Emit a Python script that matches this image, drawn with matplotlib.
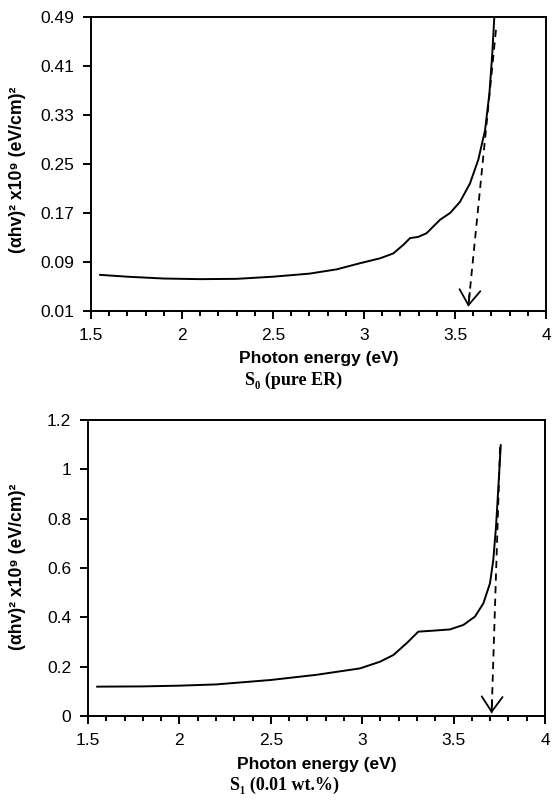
import matplotlib
matplotlib.use('Agg')
import matplotlib.pyplot as plt
from matplotlib.ticker import MultipleLocator, FuncFormatter

plt.rcParams['font.family'] = ['Liberation Sans', 'DejaVu Sans']

# S0 (pure ER)
e0 = [1.55, 1.7, 1.9, 2.1, 2.3, 2.5, 2.7, 2.85, 2.978, 3.088, 3.161, 3.216,
      3.253, 3.298, 3.344, 3.418, 3.473, 3.527, 3.582, 3.628, 3.665, 3.689,
      3.705, 3.716]
a0 = [0.069, 0.066, 0.063, 0.062, 0.0625, 0.066, 0.071, 0.078, 0.088, 0.096,
      0.104, 0.118, 0.129, 0.131, 0.137, 0.159, 0.170, 0.188, 0.218, 0.257,
      0.305, 0.365, 0.431, 0.49]
fit0 = ([3.725, 3.573], [0.469, 0.017])

# S1 (0.01 wt.%)
e1 = [1.55, 1.8, 2.0, 2.2, 2.5, 2.75, 2.988, 3.097, 3.170, 3.243, 3.307,
      3.389, 3.480, 3.553, 3.617, 3.663, 3.699, 3.717, 3.732, 3.745, 3.758]
a1 = [0.119, 0.120, 0.123, 0.128, 0.146, 0.167, 0.193, 0.220, 0.247, 0.295,
      0.342, 0.346, 0.351, 0.369, 0.403, 0.457, 0.538, 0.632, 0.767, 0.929,
      1.098]
fit1 = ([3.754, 3.708], [1.09, 0.011])

ylab = '(αhv)² x10⁹ (eV/cm)²'
xlab = 'Photon energy (eV)'

fig = plt.figure(figsize=(5.52, 8.05), dpi=100)
ax1 = fig.add_axes([91/552, 1-311/805, 455/552, 294/805])
ax2 = fig.add_axes([88/552, 1-716/805, 457/552, 296/805])


def style(ax):
    for s in ax.spines.values():
        s.set_linewidth(1.4)
    ax.set_xlim(1.5, 4)
    ax.xaxis.set_major_locator(MultipleLocator(0.5))
    ax.xaxis.set_minor_locator(MultipleLocator(0.1))
    ax.xaxis.set_major_formatter(FuncFormatter(lambda v, p: f'{v:g}'))
    ax.tick_params(axis='both', which='major', direction='out', length=6,
                   width=1.4, labelsize=12.5, pad=6)
    ax.tick_params(axis='x', which='minor', direction='out', length=3.5,
                   width=1.4)
    ax.tick_params(axis='y', which='minor', left=False)


def arrow(ax, fit):
    ax.plot(fit[0], fit[1], color='black', lw=1.3, ls=(0, (4, 3)))
    dx = fit[0][1] - fit[0][0]
    dy = fit[1][1] - fit[1][0]
    ax.annotate('', xy=(fit[0][1], fit[1][1]),
                xytext=(fit[0][1] - dx*0.05, fit[1][1] - dy*0.05),
                arrowprops=dict(arrowstyle='->,head_length=0.72,head_width=0.5',
                                lw=1.3, color='black', mutation_scale=15,
                                shrinkA=0, shrinkB=0))


ax1.plot(e0, a0, color='black', lw=1.4)
arrow(ax1, fit0)
style(ax1)
ax1.set_ylim(0.01, 0.49)
ax1.set_yticks([0.01, 0.09, 0.17, 0.25, 0.33, 0.41, 0.49])
ax1.yaxis.set_major_formatter(FuncFormatter(lambda v, p: f'{v:.2f}'))
ax1.set_xlabel(xlab, fontsize=12.5, fontweight='bold')
ax1.xaxis.set_label_coords(0.5, -0.135)
ax1.xaxis.label.set_va('top')

ax2.plot(e1, a1, color='black', lw=1.4)
arrow(ax2, fit1)
style(ax2)
ax2.set_ylim(0, 1.2)
ax2.yaxis.set_major_locator(MultipleLocator(0.2))
ax2.yaxis.set_major_formatter(FuncFormatter(lambda v, p: f'{round(v, 1):g}'))
ax2.set_xlabel(xlab, fontsize=12.5, fontweight='bold')
ax2.xaxis.set_label_coords(0.5, -0.138)
ax2.xaxis.label.set_va('top')

fig.text(18/552, 1-170/805, ylab, rotation=90, ha='center', va='center',
         fontsize=12.7, fontweight='bold')
fig.text(18/552, 1-567/805, ylab, rotation=90, ha='center', va='center',
         fontsize=12.7, fontweight='bold')

serif = ['Liberation Serif', 'DejaVu Serif']
fig.text(294/552, 1-380/805, 'S₀ (pure ER)', ha='center', va='center',
         fontsize=13, fontweight='bold', family=serif)
fig.text(285/552, 1-785/805, 'S₁ (0.01 wt.%)', ha='center', va='center',
         fontsize=13, fontweight='bold', family=serif)

fig.savefig('out.png', dpi=100)
